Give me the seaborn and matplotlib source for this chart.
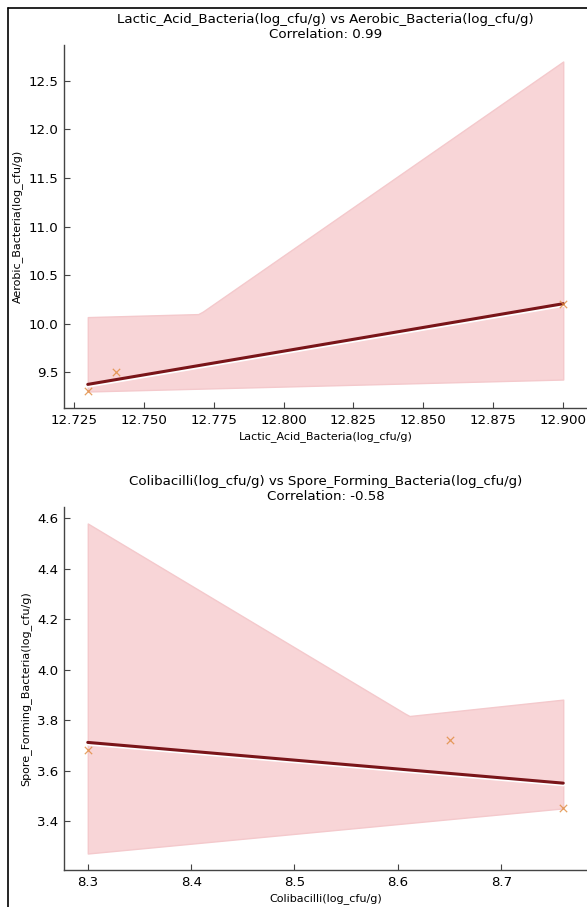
import numpy as np
import pandas as pd
import seaborn as sns
import matplotlib
matplotlib.use("Agg")
import matplotlib.pyplot as plt
import matplotlib.patheffects as pe
from matplotlib.lines import Line2D
from matplotlib.collections import PolyCollection, PathCollection

# Data
lab = [12.73, 12.74, 12.90]
aerobic = [9.30, 9.50, 10.20]
coli = [8.30, 8.65, 8.76]
spore = [3.68, 3.72, 3.45]

pairs = [
    ("Lactic_Acid_Bacteria(log_cfu/g)", lab, "Aerobic_Bacteria(log_cfu/g)", aerobic),
    ("Colibacilli(log_cfu/g)", coli, "Spore_Forming_Bacteria(log_cfu/g)", spore),
]

sns.set_theme(style="ticks")
plt.rcParams["font.family"] = ["DejaVu Sans"]
plt.rcParams["text.color"] = "black"
plt.rcParams["axes.labelcolor"] = "black"
plt.rcParams["xtick.labelcolor"] = "black"
plt.rcParams["ytick.labelcolor"] = "black"

W, H = 587, 907
fig = plt.figure(figsize=(W / 100, H / 100), dpi=100)

band_face = (0.973, 0.835, 0.843)
band_edge = (0.955, 0.79, 0.80)
line_col = "#7a1519"
pt_col = "#e08a3c"

positions = [
    [64 / W, 1 - 408 / H, 523 / W, 363 / H],
    [64 / W, 1 - 870 / H, 523 / W, 363 / H],
]

for (xn, xv, yn, yv), pos in zip(pairs, positions):
    ax = fig.add_axes(pos)
    df = pd.DataFrame({xn: xv, yn: yv})
    r = np.corrcoef(xv, yv)[0, 1]
    sns.regplot(
        data=df, x=xn, y=yn, ax=ax, marker="x", seed=0,
        color=line_col,
        scatter_kws=dict(color=pt_col, s=28, linewidths=0.9, zorder=4),
        line_kws=dict(color=line_col, lw=2.2, zorder=3,
                      path_effects=[pe.SimpleLineShadow(offset=(0.4, -1.2), shadow_color="white", alpha=1.0),
                                    pe.Normal()]),
    )
    for c in ax.collections:
        if isinstance(c, PolyCollection) and not isinstance(c, PathCollection):
            c.set_facecolor(band_face)
            c.set_edgecolor(band_edge)
            c.set_alpha(1.0)
            c.set_linewidth(1.0)
            c.set_zorder(1)
    ax.set_title(f"{xn} vs {yn}\nCorrelation: {r:.2f}", fontsize=9.6, pad=5)
    ax.set_xlabel(xn, fontsize=8.0, labelpad=3)
    ax.set_ylabel(yn, fontsize=8.0, labelpad=4)
    ax.tick_params(direction="in", length=4, width=0.8, labelsize=9.6, color="#444444", pad=4)
    sns.despine(ax=ax)
    for s in ("left", "bottom"):
        ax.spines[s].set_color("#444444")
        ax.spines[s].set_linewidth(1.0)

# outer frame lines (left and top)
fig.add_artist(Line2D([7.5 / W, 7.5 / W], [0, 1 - 7.5 / H], transform=fig.transFigure, color="black", lw=1.2))
fig.add_artist(Line2D([7.5 / W, 1], [1 - 7.5 / H, 1 - 7.5 / H], transform=fig.transFigure, color="black", lw=1.2))

fig.savefig("out.png", dpi=100)
